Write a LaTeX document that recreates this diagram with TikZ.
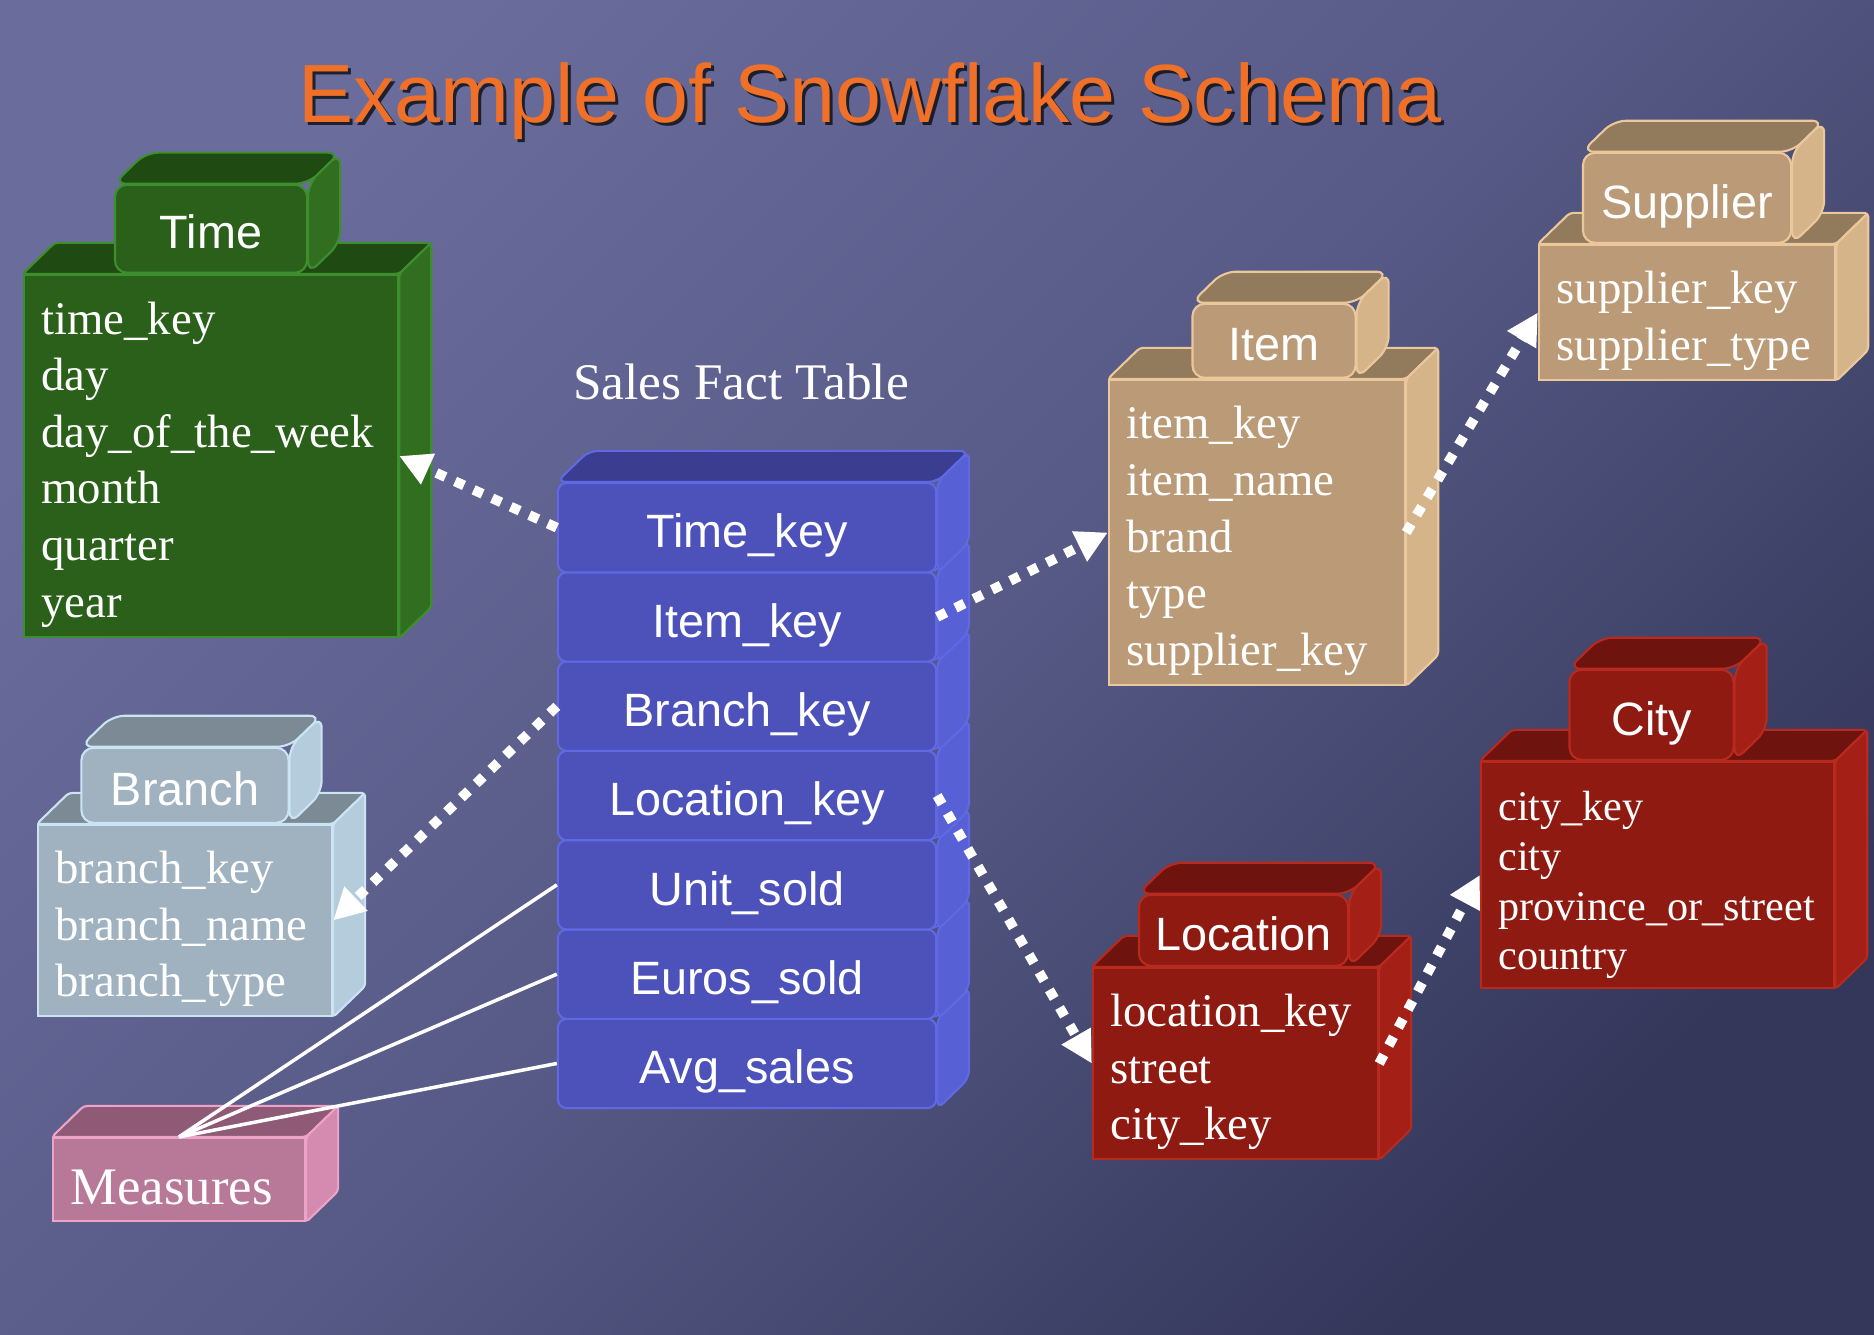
\documentclass[tikz,border=0pt]{standalone}
\usepackage{fontspec}
\setmainfont{Liberation Serif}
\setsansfont{Liberation Sans}
\usetikzlibrary{positioning,arrows.meta,calc}
\definecolor{bgtop}{HTML}{6A6D9C}
\definecolor{bgmid}{HTML}{575A86}
\definecolor{bgbot}{HTML}{34375A}
\definecolor{titleorange}{HTML}{F07028}
\definecolor{timefront}{HTML}{2A601A}
\definecolor{timetop}{HTML}{1F4A12}
\definecolor{timeside}{HTML}{316E20}
\definecolor{timeedge}{HTML}{3D8F2D}
\definecolor{factfront}{HTML}{4C52BA}
\definecolor{facttop}{HTML}{3B3E90}
\definecolor{factside}{HTML}{5860D6}
\definecolor{factedge}{HTML}{6068E4}
\definecolor{itemfront}{HTML}{BB9B77}
\definecolor{itemtop}{HTML}{927A5C}
\definecolor{itemside}{HTML}{D6B48A}
\definecolor{itemedge}{HTML}{EBC79C}
\definecolor{cityfront}{HTML}{8E1A12}
\definecolor{citytop}{HTML}{6E130D}
\definecolor{cityside}{HTML}{A41F16}
\definecolor{cityedge}{HTML}{B82A1E}
\definecolor{branchfront}{HTML}{A0B2C0}
\definecolor{branchtop}{HTML}{7B8A94}
\definecolor{branchside}{HTML}{B5CCDC}
\definecolor{branchedge}{HTML}{CBE4F4}
\definecolor{measfront}{HTML}{B87898}
\definecolor{meastop}{HTML}{8E5A75}
\definecolor{measside}{HTML}{D58BB0}
\definecolor{measedge}{HTML}{EDA3C8}

\newcommand{\fieldfont}{\fontsize{13.3pt}{16.1pt}\selectfont}
\newcommand{\smallfieldfont}{\fontsize{12pt}{14.2pt}\selectfont}
\newcommand{\tabfont}{\sffamily\fontsize{13.3pt}{16pt}\selectfont}
\newcommand{\toppad}{\rule{0pt}{14pt}}

% top and side faces of a front node: [corner] node, top, side, edge
\newcommand{\boxfaces}[5][1pt]{%
  \filldraw[fill=#3, draw=#5, line width=0.6pt, rounded corners=#1] (#2.north west) -- ++(32,-31) -- ($(#2.north east)+(32,-31)$) -- (#2.north east) -- cycle;
  \filldraw[fill=#4, draw=#5, line width=0.6pt, rounded corners=#1] (#2.north east) -- ($(#2.north east)+(32,-31)$) -- ($(#2.south east)+(32,-31)$) -- (#2.south east) -- cycle;
}

\tikzset{
  dimbox/.style 2 args={draw=#2, fill=#1, line width=0.6pt, text=white, align=left, inner xsep=5pt, inner ysep=0pt, font=\fieldfont},
  tabbox/.style 2 args={draw=#2, fill=#1, line width=0.6pt, text=white, rounded corners=3.5pt, inner sep=0pt, text height=13pt, text depth=1.5pt, font=\tabfont},
  factrow/.style={draw=factedge, fill=factfront, line width=0.6pt, text=white, rounded corners=2.5pt, minimum width=3.78cm, minimum height=0.893cm, inner sep=0pt, text height=13pt, text depth=1.5pt, font=\tabfont},
  fkey/.style={draw=white, line width=2.8pt, dash pattern=on 2.8pt off 3pt, -{Triangle[length=9pt,width=9pt]}},
  measline/.style={draw=white, line width=1pt},
  titletext/.style={font=\sffamily\fontsize{23.5pt}{28pt}\selectfont, anchor=base}
}

\begin{document}
\begin{tikzpicture}[x=0.01cm, y=-0.01cm]
\useasboundingbox (0,0) rectangle (1874,1334);
\shade[top color=bgtop, bottom color=bgbot, middle color=bgmid, shading angle=45] (0,0) rectangle (1874,1334);

% title
\node[titletext, text=black, opacity=.7] (titleshadow) at (873,126) {Example of Snowflake Schema};
\node[titletext, text=titleorange] (title) at (870,123) {Example of Snowflake Schema};

% Time
\node[dimbox={timefront}{timeedge}, minimum width=3.74cm, minimum height=3.62cm, text width=3.389cm] (time) at (211,456) {\toppad time\_key\\day\\day\_of\_the\_week\\month\\quarter\\year};
\boxfaces{time}{timetop}{timeside}{timeedge}
\node[tabbox={timefront}{timeedge}, minimum width=1.92cm, minimum height=0.88cm, above=0pt of time] (timetab) {Time};
\boxfaces[3.5pt]{timetab}{timetop}{timeside}{timeedge}

% Branch
\node[dimbox={branchfront}{branchedge}, minimum width=2.94cm, minimum height=1.91cm, text width=2.589cm] (branch) at (185,920.5) {\toppad branch\_key\\branch\_name\\branch\_type};
\boxfaces{branch}{branchtop}{branchside}{branchedge}
\node[tabbox={branchfront}{branchedge}, minimum width=2.07cm, minimum height=0.75cm, above=0pt of branch] (branchtab) {Branch};
\boxfaces[3.5pt]{branchtab}{branchtop}{branchside}{branchedge}

% Measures
\node[dimbox={measfront}{measedge}, minimum width=2.52cm, minimum height=0.83cm, text width=2.169cm, text height=14pt, text depth=0pt, font=\fontsize{15pt}{18pt}\selectfont] (measures) at (179,1179.5) {Measures};
\boxfaces{measures}{meastop}{measside}{measedge}

% Item
\node[dimbox={itemfront}{itemedge}, minimum width=2.96cm, minimum height=3.05cm, text width=2.609cm] (item) at (1257,532.5) {\toppad item\_key\\item\_name\\brand\\type\\supplier\_key};
\boxfaces{item}{itemtop}{itemside}{itemedge}
\node[tabbox={itemfront}{itemedge}, minimum width=1.63cm, minimum height=0.74cm, above=0pt of item, xshift=0.17cm] (itemtab) {Item};
\boxfaces[3.5pt]{itemtab}{itemtop}{itemside}{itemedge}

% Supplier
\node[dimbox={itemfront}{itemedge}, minimum width=2.96cm, minimum height=1.35cm, text width=2.609cm] (supplier) at (1687,312.5) {\toppad supplier\_key\\supplier\_type};
\boxfaces{supplier}{itemtop}{itemside}{itemedge}
\node[tabbox={itemfront}{itemedge}, minimum width=2.08cm, minimum height=0.9cm, above=0pt of supplier] (suppliertab) {Supplier};
\boxfaces[3.5pt]{suppliertab}{itemtop}{itemside}{itemedge}

% City
\node[dimbox={cityfront}{cityedge}, minimum width=3.53cm, minimum height=2.26cm, text width=3.179cm, font=\smallfieldfont] (city) at (1657.5,875) {\toppad city\_key\\city\\province\_or\_street\\country};
\boxfaces{city}{citytop}{cityside}{cityedge}
\node[tabbox={cityfront}{cityedge}, minimum width=1.64cm, minimum height=0.9cm, above=0pt of city, xshift=-0.06cm] (citytab) {City};
\boxfaces[3.5pt]{citytab}{citytop}{cityside}{cityedge}

% Location
\node[dimbox={cityfront}{cityedge}, minimum width=2.85cm, minimum height=1.91cm, text width=2.499cm] (location) at (1235.5,1063.5) {\toppad location\_key\\street\\city\_key};
\boxfaces{location}{citytop}{cityside}{cityedge}
\node[tabbox={cityfront}{cityedge}, minimum width=2.09cm, minimum height=0.71cm, above=0pt of location, xshift=0.08cm] (locationtab) {Location};
\boxfaces[3.5pt]{locationtab}{citytop}{cityside}{cityedge}

% fact table, drawn bottom row first
\node[font=\fontsize{14.6pt}{17pt}\selectfont, text=white, anchor=base] (factlabel) at (741,400) {Sales Fact Table};
\foreach \i/\nm/\txt in {7/avg/Avg\_sales,6/euros/Euros\_sold,5/unit/Unit\_sold,4/loc/Location\_key,3/branch/Branch\_key,2/item/Item\_key,1/time/Time\_key} {
  \node[factrow] (f\nm) at (747,{483+89.3*(\i-0.5)}) {\txt};
  \boxfaces[2.5pt]{f\nm}{facttop}{factside}{factedge}
}

% keys
\draw[fkey] (ftime.west) -- (time.east);
\draw[fkey] (fitem.east) -- (item.west);
\draw[fkey] (fbranch.west) -- (branch.east);
\draw[fkey] (floc.east) -- (location.west);
\draw[fkey] (item.east) -- (supplier.west);
\draw[fkey] (location.east) -- (city.west);
\foreach \nm in {unit,euros,avg}
  \draw[measline] (measures.north) -- (f\nm.west);
\end{tikzpicture}
\end{document}
